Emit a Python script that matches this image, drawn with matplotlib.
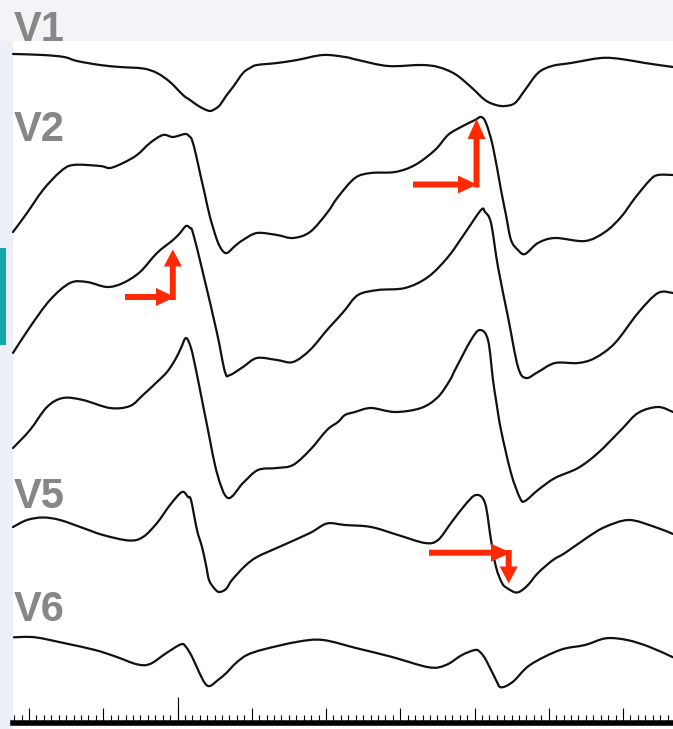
import matplotlib
matplotlib.use("Agg")
import matplotlib.pyplot as plt
from matplotlib.patches import Rectangle, FancyArrow, PathPatch
from matplotlib.path import Path
from matplotlib.ticker import FixedLocator
import numpy as np

# ---------------- data (time in samples, amplitude in counts) ----------------
lead_names = ["V1", "V2", "V3", "V4", "V5", "V6"]

v1_t = [13, 43, 64, 77, 100, 120, 143, 157, 170, 183, 190, 197, 204, 210, 215, 220, 226, 233, 243, 250,
        257, 277, 297, 323, 345, 358, 388, 421, 438, 455, 471, 485, 496, 505, 515, 525, 538, 552, 571, 601,
        621, 645, 673]
v1_a = [26, 25, 23, 19, 15, 13, 11.5, 7, -2, -15, -20, -25, -29, -31, -29, -25, -16, -7, 7, 12,
        15, 17, 20, 25, 23, 20, 14, 15, 13, 6, -7, -20, -25, -26, -23, -10, 7, 14, 17, 22,
        21, 17, 13]

v2_t = [13, 27, 43, 60, 73, 100, 110, 123, 137, 150, 163, 173, 185, 189, 192, 196, 200, 205, 210, 217,
        222, 227, 235, 243, 257, 277, 293, 310, 327, 338, 355, 371, 395, 415, 435, 448, 461, 475, 481, 486,
        493, 501, 506, 511, 518, 525, 538, 555, 585, 605, 621, 635, 650, 658, 673]
v2_a = [-32, -13, 10, 28, 35, 34, 32, 37, 45, 57, 65, 63, 66, 64, 60, 45, 27, 5, -17, -40,
        -50, -53, -46, -40, -33, -35, -38, -32, -13, 3, 22, 27, 28, 35, 50, 65, 73, 80, 83, 77,
        53, 10, -15, -40, -50, -54, -43, -38, -41, -32, -17, 2, 20, 25, 25]

v3_t = [13, 30, 50, 70, 87, 107, 123, 140, 157, 173, 180, 186, 190, 193, 203, 217, 225, 230, 243, 257,
        277, 293, 310, 327, 338, 345, 358, 378, 405, 428, 448, 465, 481, 485, 491, 498, 508, 518, 526, 538,
        555, 578, 595, 615, 638, 658, 673]
v3_a = [-33, -7, 20, 37, 38, 33, 37, 48, 67, 80, 87, 94, 92, 87, 47, -13, -52, -55, -47, -38,
        -40, -42, -30, -10, 2, 10, 25, 30, 32, 43, 63, 87, 110, 108, 97, 53, 3, -47, -58, -52,
        -43, -43, -38, -23, 7, 27, 27]

v4_t = [13, 30, 47, 63, 83, 110, 130, 143, 157, 167, 175, 181, 186, 191, 196, 202, 207, 217, 228,
        243, 258, 277, 293, 310, 327, 338, 345, 355, 371, 395, 421, 438, 450, 455, 471, 480, 488, 493, 496,
        501, 511, 520, 525, 538, 555, 578, 598, 621, 638, 658, 673]
v4_a = [-8, 10, 33, 42, 40, 32, 34, 45, 58, 68, 80, 92, 102, 92, 70, 40, 15, -33, -58,
        -43, -30, -28, -25, -10, 10, 18, 25, 28, 32, 28, 32, 43, 60, 70, 100, 110, 100, 60, 40,
        10, -33, -58, -61, -50, -38, -28, -13, 10, 27, 33, 28]

v5_t = [13, 27, 43, 60, 83, 103, 129, 143, 157, 170, 182, 188, 191, 197, 202, 206, 209, 214, 219, 226,
        232, 245, 257, 279, 310, 327, 345, 371, 398, 425, 438, 451, 465, 476, 485, 491, 496, 502, 507,
        517, 527, 538, 553, 565, 588, 605, 629, 655, 673]
v5_a = [13, 20, 22.5, 20, 12, 5, -0.5, 3, 17, 35, 48, 43, 40, 10, -7, -25, -40, -48, -52, -49,
        -40, -26, -17, -7, 7, 16.5, 15, 13, 5, -3, 0, 17, 35, 45, 37, 0, -27, -43, -48,
        -52.5, -46, -33, -20, -13, 3, 13, 20, 13, 6]

v6_t = [14, 35, 65, 95, 116, 137, 150, 166, 181, 186, 192, 199, 205, 210, 218, 226, 236, 247, 264, 298,
        323, 357, 391, 429, 446, 462, 475, 480, 486, 496, 501, 513, 530, 560, 585, 606, 627, 649, 673]
v6_a = [22.7, 22.7, 16.7, 10, 3.3, -4.3, -4, 6.7, 15.7, 13, 3.3, -12, -23.3, -26, -20, -13.3, -3, 5, 10.7, 18.3,
        20, 11.7, 3.3, -7.3, -5, 5, 10, 8, 0, -20, -27.3, -21.7, -5, 10, 15, 21.7, 20, 13.3, 2.7]

leads_t = [v1_t, v2_t, v3_t, v4_t, v5_t, v6_t]
leads_a = [v1_a, v2_a, v3_a, v4_a, v5_a, v6_a]

# ---------------- layout ----------------
W, H = 673, 729
fig = plt.figure(figsize=(W / 100, H / 100), dpi=100)
fig.patch.set_facecolor("#eceff7")

def fig_rect(x0, y0, x1, y1, color, z=0):
    fig.add_artist(Rectangle((x0 / W, 1 - y1 / H), (x1 - x0) / W, (y1 - y0) / H,
                             transform=fig.transFigure, facecolor=color, edgecolor="none", zorder=z))

fig_rect(0, 0, W, 40.5, "#f3f4f8")
fig_rect(12.5, 40.5, W, H, "#ffffff")
fig_rect(0, 248, 5.5, 345, "#14a7a8")

panel_left, panel_top, ruler_y = 12.5, 40.5, 722.7
ax = fig.add_axes([panel_left / W, 1 - ruler_y / H, (W - panel_left) / W, (ruler_y - panel_top) / H])
ax.set_facecolor("none")
ax.set_xlim(panel_left, W)
ax.set_ylim(-ruler_y, -panel_top)


def smooth_trace_path(x, y):
    """Cubic Bezier path passing through every sample (Catmull-Rom style tangents)."""
    p = np.column_stack([x, y]).astype(float)
    n = len(p)
    verts = [p[0]]
    codes = [Path.MOVETO]
    for i in range(n - 1):
        p0 = p[i - 1] if i > 0 else p[i]
        p1, p2 = p[i], p[i + 1]
        p3 = p[i + 2] if i + 2 < n else p[i + 1]
        c1 = p1 + (p2 - p0) / 6.0
        c2 = p2 - (p3 - p1) / 6.0
        verts += [c1, c2, p2]
        codes += [Path.CURVE4] * 3
    return Path(verts, codes)


baselines = [80, 200, 320, 440, 540, 660]
for t, a, b in zip(leads_t, leads_a, baselines):
    path = smooth_trace_path(t, np.asarray(a, float) - b)
    ax.add_patch(PathPatch(path, facecolor="none", edgecolor="#111111", lw=1.6,
                           joinstyle="round", capstyle="round", clip_on=False, zorder=3))

# ruler (time scale) as the bottom axis
for s in ["left", "right", "top"]:
    ax.spines[s].set_visible(False)
ax.spines["bottom"].set_linewidth(4.0)
ax.spines["bottom"].set_color("#000000")
major_step = 74.25
minor_step = major_step / 10
ref_tick = 177.5
majors = np.arange(ref_tick - 2 * major_step, W + 1, major_step)
minors = np.arange(ref_tick - 22 * minor_step, W + 1, minor_step)
ax.xaxis.set_major_locator(FixedLocator(majors))
ax.xaxis.set_minor_locator(FixedLocator(minors))
ax.tick_params(axis="x", which="major", direction="in", length=10.5, width=0.8, color="#000000",
               labelbottom=False)
ax.tick_params(axis="x", which="minor", direction="in", length=6.0, width=0.8, color="#000000")
ax.tick_params(axis="y", left=False, labelleft=False)
ax.vlines([ref_tick], -ruler_y, -697, color="#000000", lw=0.8, zorder=2)

# lead labels
label_pos = {"V1": 41, "V2": 141, "V5": 508, "V6": 621}
for name, yb in label_pos.items():
    fig.text(14 / W, 1 - yb / H, name, fontsize=30, fontweight="bold", family="Liberation Sans",
             color="#878787", va="baseline", ha="left", zorder=5)

# red annotation arrows
red = "#fe2a04"
def arrow(x, y, dx, dy, hl):
    ax.add_patch(FancyArrow(x, y, dx, dy, width=6.0, head_width=18, head_length=hl,
                            length_includes_head=True, color=red, lw=0, zorder=6, clip_on=False))

arrow(413, -184.5, 64, 0, 19)
arrow(476.5, -187.5, 0, 68.5, 20)
arrow(125, -297, 50, 0, 19)
arrow(172.8, -300, 0, 50.5, 17)
arrow(429, -552.7, 82, 0, 20)
arrow(508.7, -550, 0, -33.5, 17)

fig.savefig("out.png", dpi=100, facecolor=fig.get_facecolor())
